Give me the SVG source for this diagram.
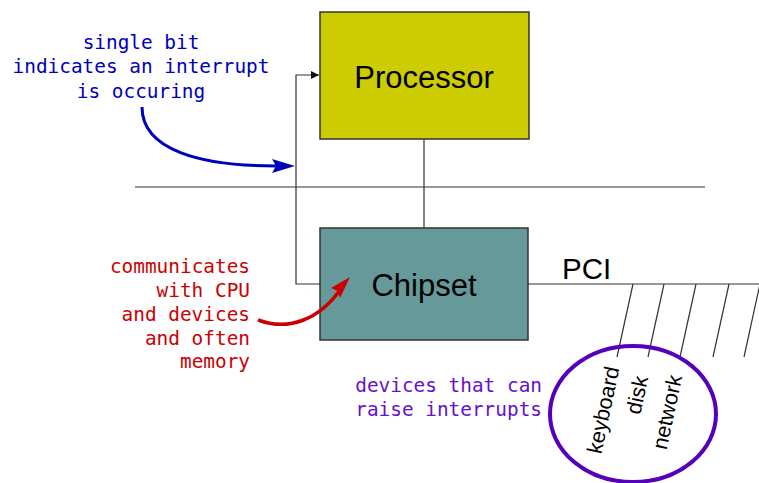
<svg xmlns="http://www.w3.org/2000/svg" width="759" height="483" viewBox="0 0 759 483">
  <style>
    .box { stroke: #333; stroke-width: 1.5; }
    .wire { stroke: #333; stroke-width: 1.2; fill: none; }
    .label { font-family: "Liberation Sans", Arial, sans-serif; fill: #000; }
    .note { font-family: "DejaVu Sans Mono", monospace; font-size: 19.4px; }
    .dev { font-family: "Liberation Sans", Arial, sans-serif; font-size: 21.5px; fill: #000; }
  </style>
  <defs>
    <marker id="tip-black" viewBox="0 0 10 10" refX="10" refY="5" markerWidth="8" markerHeight="8" markerUnits="userSpaceOnUse" orient="auto">
      <path d="M0,0 L10,5 L0,10 z" fill="#111"/>
    </marker>
  </defs>
  <rect width="759" height="483" fill="#fff"/>

  <g id="connectors">
    <!-- system bus -->
    <line class="wire" x1="135" y1="187" x2="705" y2="187"/>
    <!-- processor to chipset -->
    <line class="wire" x1="424" y1="139" x2="424" y2="228"/>
    <!-- interrupt line -->
    <polyline class="wire" stroke="#555" points="320,284 296,284 296,75 319,75" marker-end="url(#tip-black)"/>
    <!-- PCI bus and its slots -->
    <line class="wire" x1="528" y1="284" x2="759" y2="284"/>
    <line class="wire" stroke-width="1" x1="633" y1="284" x2="617" y2="357"/>
    <line class="wire" stroke-width="1" x1="664" y1="284" x2="648" y2="357"/>
    <line class="wire" stroke-width="1" x1="696" y1="284" x2="680" y2="357"/>
    <line class="wire" stroke-width="1" x1="729" y1="284" x2="713" y2="357"/>
    <line class="wire" stroke-width="1" x1="760" y1="284" x2="744" y2="357"/>
  </g>

  <g id="processor">
    <rect class="box" x="320" y="12" width="209" height="127" fill="#cccc00"/>
    <text class="label" x="424" y="88" font-size="31" text-anchor="middle">Processor</text>
  </g>

  <g id="chipset">
    <rect class="box" x="320" y="228" width="208" height="112" fill="#669999"/>
    <text class="label" x="424" y="296" font-size="31" text-anchor="middle">Chipset</text>
  </g>

  <g id="pci-label">
    <text class="label" x="562" y="279" font-size="29.5">PCI</text>
  </g>

  <g id="devices">
    <ellipse cx="633" cy="414" rx="83" ry="68" fill="none" stroke="#5500bb" stroke-width="4"/>
    <text class="dev" transform="translate(603,410) rotate(-78)" text-anchor="middle" dy="7.5">keyboard</text>
    <text class="dev" transform="translate(637,395) rotate(-78)" text-anchor="middle" dy="7.5">disk</text>
    <text class="dev" transform="translate(667,412) rotate(-78)" text-anchor="middle" dy="7.5">network</text>
  </g>

  <g id="note-interrupt" fill="#0000bb">
    <text class="note" x="141" y="49" text-anchor="middle">single bit</text>
    <text class="note" x="141" y="73" text-anchor="middle">indicates an interrupt</text>
    <text class="note" x="141" y="98" text-anchor="middle">is occuring</text>
    <path d="M142,107 C142,150 200,166 276,166" fill="none" stroke="#0000bb" stroke-width="3"/>
    <path d="M295,166 L272,159 L276,166 L272,173 z"/>
  </g>

  <g id="note-chipset" fill="#cc0000">
    <text class="note" x="250" y="273" text-anchor="end">communicates</text>
    <text class="note" x="250" y="297" text-anchor="end">with CPU</text>
    <text class="note" x="250" y="321" text-anchor="end">and devices</text>
    <text class="note" x="250" y="345" text-anchor="end">and often</text>
    <text class="note" x="250" y="368" text-anchor="end">memory</text>
    <path d="M258,320 C290,332 320,318 340,290" fill="none" stroke="#cc0000" stroke-width="3.5"/>
    <path d="M350,277 L331,288 L338,291 L340,298 z"/>
  </g>

  <g id="note-devices" fill="#6611cc">
    <text class="note" x="542" y="392" text-anchor="end">devices that can</text>
    <text class="note" x="542" y="416" text-anchor="end">raise interrupts</text>
  </g>
</svg>
